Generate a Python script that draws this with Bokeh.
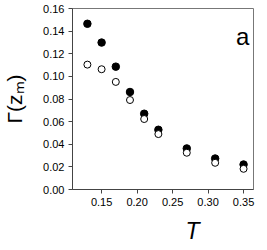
from bokeh.plotting import figure
from bokeh.models import Range1d, FixedTicker, NumeralTickFormatter, Label, Title
from bokeh.embed import file_html
from bokeh.resources import INLINE

T = [0.13, 0.15, 0.17, 0.19, 0.21, 0.23, 0.27, 0.31, 0.35]
gamma_filled = [0.1465, 0.1299, 0.1086, 0.0862, 0.0670, 0.0528, 0.0363, 0.0274, 0.0221]
gamma_open = [0.1104, 0.1063, 0.0951, 0.0791, 0.0623, 0.0490, 0.0325, 0.0236, 0.0183]
x_ticks = [0.15, 0.20, 0.25, 0.30, 0.35]
y_ticks = [0.00, 0.02, 0.04, 0.06, 0.08, 0.10, 0.12, 0.14, 0.16]

FONT = "Liberation Sans"

p = figure(frame_width=181, frame_height=181, min_border_left=61, min_border_top=8,
           min_border_right=9, min_border_bottom=10,
           x_range=Range1d(0.109, 0.364), y_range=Range1d(0.0, 0.16),
           output_backend="svg", toolbar_location=None)

p.xgrid.visible = False
p.ygrid.visible = False
p.outline_line_color = "#777777"
p.outline_line_width = 1
p.background_fill_color = "white"
p.border_fill_color = "white"

for ax in (p.xaxis[0], p.yaxis[0]):
    ax.major_tick_in = 0
    ax.major_tick_out = 4
    ax.minor_tick_line_color = None
    ax.axis_line_color = "#444444"
    ax.major_tick_line_color = "#444444"
    ax.major_label_text_font = FONT
    ax.major_label_text_font_size = "11px"
    ax.major_label_text_color = "black"
    ax.major_label_standoff = 4

p.xaxis.ticker = FixedTicker(ticks=x_ticks)
p.yaxis.ticker = FixedTicker(ticks=y_ticks)
p.xaxis.formatter = NumeralTickFormatter(format="0.00")
p.yaxis.formatter = NumeralTickFormatter(format="0.00")

p.yaxis.axis_label = "Γ(zₘ)"
p.yaxis.axis_label_text_font = FONT
p.yaxis.axis_label_text_font_style = "normal"
p.yaxis.axis_label_text_font_size = "21px"
p.yaxis.axis_label_text_color = "black"
p.yaxis.axis_label_standoff = 14

p.scatter(T, gamma_filled, marker="circle", size=7.5, fill_color="black", line_color="black")
p.scatter(T, gamma_open, marker="circle", size=7, fill_color="white", line_color="black", line_width=1)

p.add_layout(Label(x=0.3487, y=0.1352, text="a", text_font=FONT, text_font_size="24px",
                   text_align="center", text_baseline="alphabetic", text_color="black"))

xlab = Title(text="T", align="left", offset=113, text_font=FONT, text_font_size="23px",
             text_font_style="italic", text_color="black", standoff=14)
p.add_layout(xlab, "below")

open("out.html", "w").write(file_html(p, INLINE))
